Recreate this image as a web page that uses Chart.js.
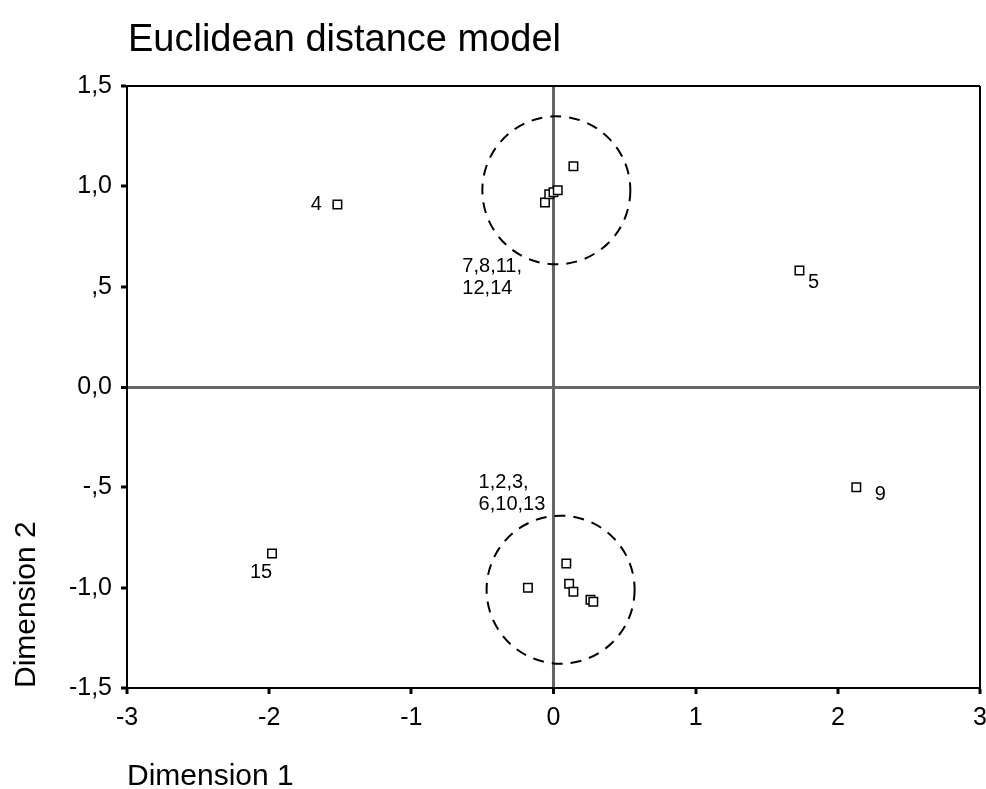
<!DOCTYPE html>
<html>
<head>
<meta charset="utf-8">
<script src="https://cdn.jsdelivr.net/npm/chart.js@4"></script>
<style>
  html, body { margin: 0; padding: 0; background: #fff; }
  #wrap { width: 986px; height: 789px; position: relative; }
</style>
</head>
<body>
<div id="wrap"><canvas id="chart"></canvas></div>
<script>
const chartTitle = 'Euclidean distance model';
const xTitle = 'Dimension 1';
const yTitle = 'Dimension 2';

// stimulus coordinates
const stimulus = ['1', '2', '3', '4', '5', '6', '7', '8', '9', '10', '11', '12', '13', '14', '15'];
const dim1 = [0.09, -0.18, 0.11, -1.52, 1.73, 0.14, 0.14, -0.06, 2.13, 0.26, -0.03, 0.0, 0.28, 0.03, -1.98];
const dim2 = [-0.88, -1.00, -0.98, 0.91, 0.58, -1.02, 1.10, 0.92, -0.50, -1.06, 0.96, 0.97, -1.07, 0.98, -0.83];

// the two dashed cluster circles (centres)
const clusterX = [0.02, 0.05];
const clusterY = [0.98, -1.01];
const clusterLabels = ['7,8,11,\n12,14', '1,2,3,\n6,10,13'];

const dim1Ticks = ['-3', '-2', '-1', '0', '1', '2', '3'];
const dim2Ticks = ['-1,5', '-1,0', '-,5', '0,0', ',5', '1,0', '1,5'];

const FONT = '"Liberation Sans", Arial, sans-serif';

function pts(xs, ys) {
  return xs.map((x, i) => ({x: x, y: ys[i]}));
}

function labelItem(dataset, name, dx, dy, align) {
  const index = dataset === 0 ? stimulus.indexOf(name) : name;
  const text = dataset === 0 ? name : clusterLabels[name];
  return {dataset, index, text, dx, dy, align};
}

const dashedCircles = {
  id: 'dashedCircles',
  beforeDatasetDraw(chart, args) {
    if (args.index === 1) chart.ctx.setLineDash([11, 8]);
  },
  afterDatasetDraw(chart, args) {
    if (args.index === 1) chart.ctx.setLineDash([]);
  }
};

const leftTitle = {
  id: 'leftTitle',
  afterDraw(chart, args, opts) {
    const ctx = chart.ctx;
    ctx.save();
    ctx.font = opts.font;
    ctx.fillStyle = '#000';
    ctx.textBaseline = 'alphabetic';
    ctx.textAlign = 'left';
    ctx.fillText(opts.text, chart.chartArea.left + opts.dx, opts.y);
    ctx.restore();
  }
};

const pointLabels = {
  id: 'pointLabels',
  afterDatasetsDraw(chart, args, opts) {
    const ctx = chart.ctx;
    ctx.save();
    ctx.font = opts.font;
    ctx.fillStyle = '#000';
    ctx.textBaseline = 'middle';
    opts.items.forEach(item => {
      const el = chart.getDatasetMeta(item.dataset).data[item.index];
      ctx.textAlign = item.align;
      item.text.split('\n').forEach((line, k) => {
        ctx.fillText(line, el.x + item.dx, el.y + item.dy + k * opts.lineHeight);
      });
    });
    ctx.restore();
  }
};

const zeroColor = '#666666';

new Chart(document.getElementById('chart'), {
  type: 'scatter',
  data: {
    datasets: [{
      data: pts(dim1, dim2),
      pointStyle: 'rect',
      pointRadius: 6,
      borderWidth: 1.5,
      borderColor: '#000',
      backgroundColor: '#fff'
    }, {
      data: pts(clusterX, clusterY),
      pointStyle: 'circle',
      pointRadius: 74,
      borderWidth: 2,
      borderColor: '#000',
      backgroundColor: 'rgba(0,0,0,0)'
    }]
  },
  options: {
    responsive: true,
    maintainAspectRatio: false,
    animation: false,
    events: [],
    layout: {
      autoPadding: false,
      padding: {top: 86, right: 0, bottom: 0, left: 0}
    },
    plugins: {
      legend: {display: false},
      tooltip: {enabled: false},
      leftTitle: {text: chartTitle, font: '38px ' + FONT, dx: 1, y: 51},
      pointLabels: {
        font: '20px ' + FONT,
        lineHeight: 22,
        items: [
          labelItem(0, '4', -21, 0, 'center'),
          labelItem(0, '5', 14, 12, 'center'),
          labelItem(0, '9', 24, 7, 'center'),
          labelItem(0, '15', -11, 19, 'center'),
          labelItem(1, 0, -94, 76, 'left'),
          labelItem(1, 1, -82, -107, 'left')
        ]
      }
    },
    scales: {
      x: {
        type: 'linear',
        min: -3,
        max: 3,
        afterFit(scale) {
          scale.height = 101;
          scale.paddingRight = 6;
        },
        ticks: {
          stepSize: 1,
          padding: 9,
          color: '#000',
          font: {family: FONT, size: 25},
          callback: (v, i) => dim1Ticks[i]
        },
        grid: {
          drawOnChartArea: true,
          color: ctx => ctx.tick.value === 0 ? zeroColor : (ctx.tick.value === 3 ? '#000' : 'rgba(0,0,0,0)'),
          lineWidth: ctx => ctx.tick.value === 0 ? 3 : 2,
          tickColor: '#000',
          tickWidth: 3,
          tickLength: 6
        },
        border: {display: true, color: '#000', width: 2},
        title: {
          display: true,
          text: xTitle,
          align: 'start',
          color: '#000',
          font: {family: FONT, size: 30},
          padding: {top: 0, bottom: -6}
        }
      },
      y: {
        type: 'linear',
        min: -1.5,
        max: 1.5,
        afterFit(scale) { scale.width = 127; },
        ticks: {
          stepSize: 0.5,
          padding: 9,
          color: '#000',
          font: {family: FONT, size: 25},
          callback: (v, i) => dim2Ticks[i]
        },
        grid: {
          drawOnChartArea: true,
          color: ctx => ctx.tick.value === 0 ? zeroColor : (ctx.tick.value === 1.5 ? '#000' : 'rgba(0,0,0,0)'),
          lineWidth: ctx => ctx.tick.value === 0 ? 3 : 2,
          tickColor: '#000',
          tickWidth: 3,
          tickLength: 6
        },
        border: {display: true, color: '#000', width: 2},
        title: {
          display: true,
          text: yTitle,
          align: 'start',
          color: '#000',
          font: {family: FONT, size: 30},
          padding: {top: 9, bottom: 0}
        }
      }
    }
  },
  plugins: [dashedCircles, leftTitle, pointLabels]
});
</script>
</body>
</html>
